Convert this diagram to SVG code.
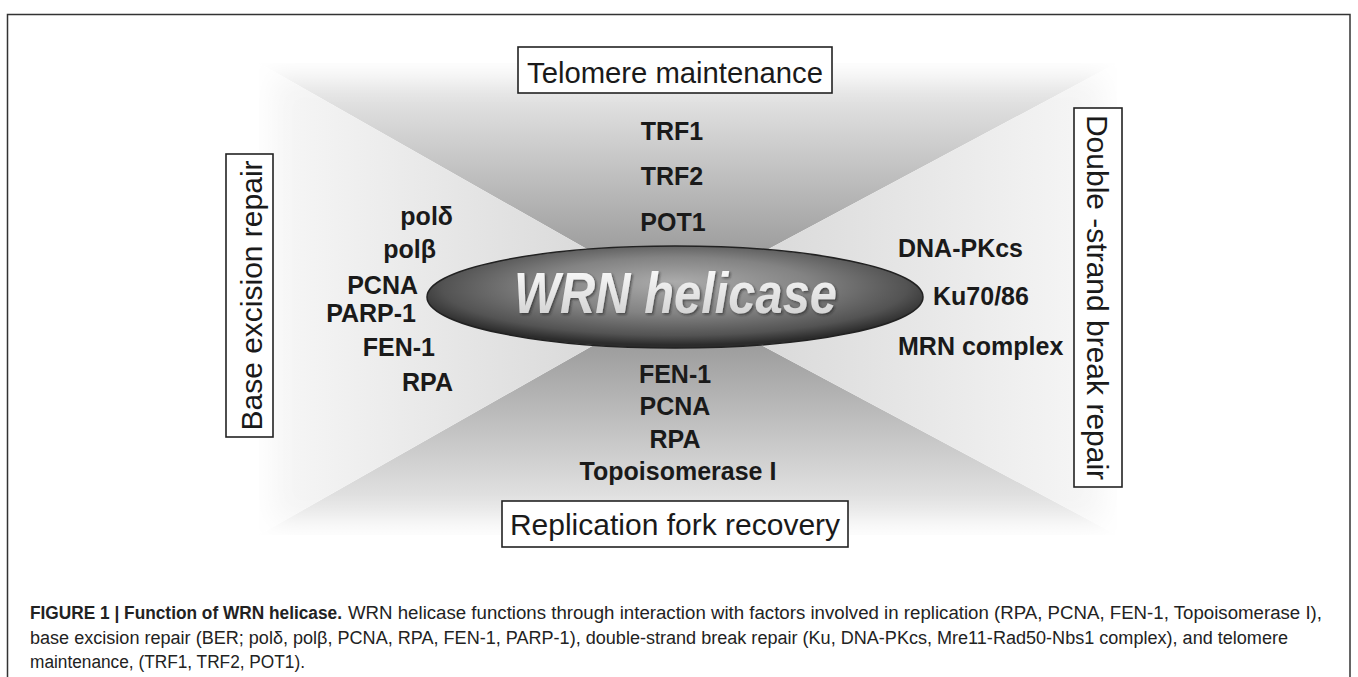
<svg xmlns="http://www.w3.org/2000/svg" width="1358" height="677" viewBox="0 0 1358 677">
<defs>
<linearGradient id="gTop" gradientUnits="userSpaceOnUse" x1="0" y1="63" x2="0" y2="299">
<stop offset="0" stop-color="#f2f2f2"/><stop offset="0.3" stop-color="#d2d2d2"/><stop offset="1" stop-color="#888888"/>
</linearGradient>
<linearGradient id="gBot" gradientUnits="userSpaceOnUse" x1="0" y1="299" x2="0" y2="535">
<stop offset="0" stop-color="#888888"/><stop offset="0.7" stop-color="#d2d2d2"/><stop offset="1" stop-color="#f2f2f2"/>
</linearGradient>
<linearGradient id="gLeft" gradientUnits="userSpaceOnUse" x1="675" y1="0" x2="259" y2="0">
<stop offset="0" stop-color="#d2d2d2"/><stop offset="1" stop-color="#f8f8f8"/>
</linearGradient>
<linearGradient id="gRight" gradientUnits="userSpaceOnUse" x1="675" y1="0" x2="1117" y2="0">
<stop offset="0" stop-color="#d2d2d2"/><stop offset="1" stop-color="#f8f8f8"/>
</linearGradient>
<radialGradient id="gEll" cx="50%" cy="42%" r="55%" fx="50%" fy="35%">
<stop offset="0" stop-color="#ababab"/><stop offset="0.5" stop-color="#838383"/><stop offset="0.85" stop-color="#535353"/><stop offset="1" stop-color="#2c2c2c"/>
</radialGradient>
<linearGradient id="gTxt" x1="0" y1="0" x2="0" y2="1">
<stop offset="0" stop-color="#ffffff"/><stop offset="1" stop-color="#cccccc"/>
</linearGradient>
<filter id="shadow" x="-10%" y="-20%" width="120%" height="140%">
<feDropShadow dx="1.5" dy="1.5" stdDeviation="1" flood-color="#222" flood-opacity="0.6"/>
</filter>
<filter id="soft" x="-20%" y="-20%" width="140%" height="140%">
<feGaussianBlur stdDeviation="14"/>
</filter>
<mask id="fade" maskUnits="userSpaceOnUse" x="0" y="0" width="1358" height="677">
<rect x="270" y="75" width="836" height="448" fill="#ffffff" filter="url(#soft)"/>
</mask>
</defs>
<style>
.lab{font-family:"Liberation Sans",Arial,sans-serif;font-weight:bold;font-size:25px;fill:#1a1a1a}
.box{fill:#ffffff;stroke:#222;stroke-width:1.6}
.cat{font-family:"Liberation Sans",Arial,sans-serif;font-size:30px;fill:#1a1a1a}
.cap{font-family:"Liberation Sans",Arial,sans-serif;font-size:18px;fill:#222}
.capb{font-family:"Liberation Sans",Arial,sans-serif;font-size:18px;font-weight:bold;fill:#222}
</style>
<rect x="0" y="0" width="1358" height="677" fill="#ffffff"/>
<rect x="7.5" y="14.5" width="1342.5" height="700" fill="none" stroke="#333" stroke-width="1.5"/>
<g id="background" mask="url(#fade)">
<polygon points="259,63 1117,63 675,299" fill="url(#gTop)"/>
<polygon points="259,535 1117,535 675,299" fill="url(#gBot)"/>
<polygon points="259,63 675,299 259,535" fill="url(#gLeft)"/>
<polygon points="1117,63 675,299 1117,535" fill="url(#gRight)"/>
</g>
<g id="telomere-maintenance">
<rect class="box" x="518" y="47" width="314" height="46"/>
<text class="cat" x="675" y="83" text-anchor="middle" textLength="296" lengthAdjust="spacingAndGlyphs">Telomere maintenance</text>
</g>
<g id="base-excision-repair">
<rect class="box" x="226" y="154" width="47" height="283"/>
<text class="cat" transform="translate(262,295.5) rotate(-90)" text-anchor="middle">Base excision repair</text>
</g>
<g id="double-strand-break-repair">
<rect class="box" x="1074" y="108" width="48" height="379"/>
<text class="cat" transform="translate(1087,297.5) rotate(90)" text-anchor="middle">Double -strand break repair</text>
</g>
<g id="replication-fork-recovery">
<rect class="box" x="502" y="501" width="346" height="46"/>
<text class="cat" x="675" y="535" text-anchor="middle">Replication fork recovery</text>
</g>
<g id="wrn-helicase">
<ellipse cx="675" cy="297" rx="248" ry="51" fill="url(#gEll)" stroke="#222" stroke-width="1.5"/>
<text x="675.5" y="313" text-anchor="middle" textLength="323" lengthAdjust="spacingAndGlyphs" font-family="'Liberation Sans',Arial,sans-serif" font-weight="bold" font-style="italic" font-size="57" fill="url(#gTxt)" filter="url(#shadow)">WRN helicase</text>
</g>
<g id="telomere-factors">
<text class="lab" x="672" y="140" text-anchor="middle">TRF1</text>
<text class="lab" x="672" y="185" text-anchor="middle">TRF2</text>
<text class="lab" x="673" y="231" text-anchor="middle">POT1</text>
</g>
<g id="ber-factors">
<text class="lab" x="453" y="225" text-anchor="end">polδ</text>
<text class="lab" x="436" y="258" text-anchor="end">polβ</text>
<text class="lab" x="418" y="294" text-anchor="end">PCNA</text>
<text class="lab" x="416" y="322" text-anchor="end">PARP-1</text>
<text class="lab" x="435" y="356" text-anchor="end">FEN-1</text>
<text class="lab" x="453" y="391" text-anchor="end">RPA</text>
</g>
<g id="dsb-factors">
<text class="lab" x="898" y="257">DNA-PKcs</text>
<text class="lab" x="933" y="305">Ku70/86</text>
<text class="lab" x="898" y="355">MRN complex</text>
</g>
<g id="replication-factors">
<text class="lab" x="675" y="383" text-anchor="middle">FEN-1</text>
<text class="lab" x="675" y="415" text-anchor="middle">PCNA</text>
<text class="lab" x="675" y="448" text-anchor="middle">RPA</text>
<text class="lab" x="678" y="480" text-anchor="middle">Topoisomerase I</text>
</g>
<g id="caption">
<text class="capb" x="30" y="619" textLength="312" lengthAdjust="spacingAndGlyphs">FIGURE 1 | Function of WRN helicase.</text>
<text class="cap" x="348" y="619" textLength="974" lengthAdjust="spacingAndGlyphs">WRN helicase functions through interaction with factors involved in replication (RPA, PCNA, FEN-1, Topoisomerase I),</text>
<text class="cap" x="30" y="644" textLength="1258" lengthAdjust="spacingAndGlyphs">base excision repair (BER; polδ, polβ, PCNA, RPA, FEN-1, PARP-1), double-strand break repair (Ku, DNA-PKcs, Mre11-Rad50-Nbs1 complex), and telomere</text>
<text class="cap" x="30" y="668" textLength="275" lengthAdjust="spacingAndGlyphs">maintenance, (TRF1, TRF2, POT1).</text>
</g>
</svg>
